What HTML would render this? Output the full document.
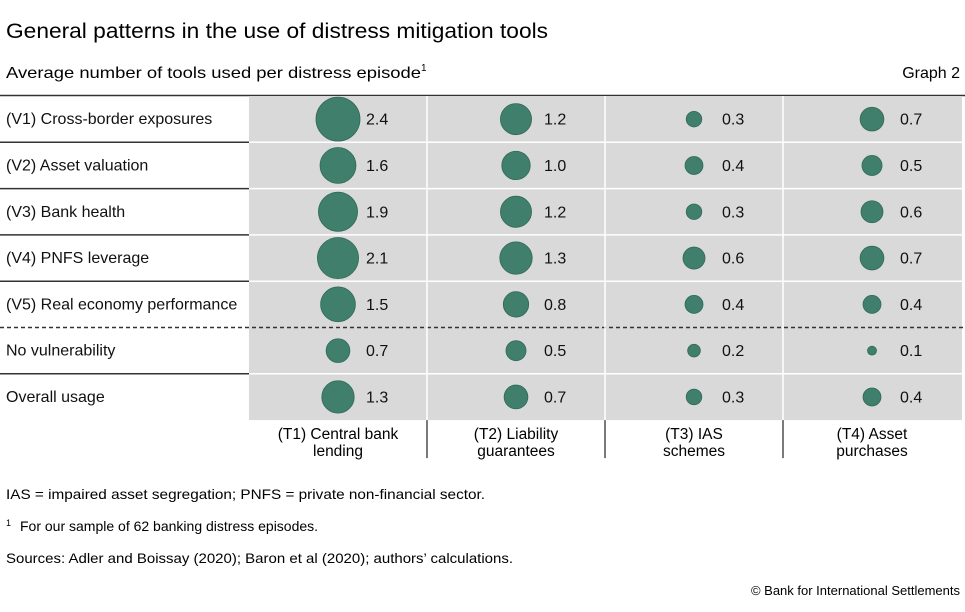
<!DOCTYPE html>
<html><head><meta charset="utf-8"><style>
body{margin:0;background:#fff;font-family:"Liberation Sans",sans-serif;color:#111}
</style></head><body>
<svg width="965" height="607" xmlns="http://www.w3.org/2000/svg" font-family="Liberation Sans, sans-serif">
<text x="6" y="38" font-size="21" textLength="542" lengthAdjust="spacingAndGlyphs">General patterns in the use of distress mitigation tools</text>
<text x="6" y="78" font-size="16"><tspan textLength="415" lengthAdjust="spacingAndGlyphs">Average number of tools used per distress episode</tspan><tspan font-size="10" dy="-7">1</tspan></text>
<text x="960" y="78" font-size="16" text-anchor="end">Graph 2</text>
<line x1="0" y1="95.5" x2="965" y2="95.5" stroke="#333" stroke-width="1.5"/>
<g id="grid"></g>
<g id="marks"></g>
<text x="6" y="499" font-size="14" textLength="479" lengthAdjust="spacingAndGlyphs">IAS = impaired asset segregation; PNFS = private non-financial sector.</text>
<text x="6" y="531" font-size="14"><tspan font-size="9" dy="-5">1</tspan><tspan dy="5" x="20">For our sample of 62 banking distress episodes.</tspan></text>
<text x="6" y="563" font-size="14" textLength="507" lengthAdjust="spacingAndGlyphs">Sources: Adler and Boissay (2020); Baron et al (2020); authors’ calculations.</text>
<text x="960" y="595" font-size="13" text-anchor="end">© Bank for International Settlements</text>
</svg>
<script>
const rows=["(V1) Cross-border exposures","(V2) Asset valuation","(V3) Bank health","(V4) PNFS leverage","(V5) Real economy performance","No vulnerability","Overall usage"];
const colLine1=["(T1) Central bank","(T2) Liability","(T3) IAS","(T4) Asset"];
const colLine2=["lending","guarantees","schemes","purchases"];
const t1=[2.4,1.6,1.9,2.1,1.5,0.7,1.3];
const t2=[1.2,1.0,1.2,1.3,0.8,0.5,0.7];
const t3=[0.3,0.4,0.3,0.6,0.4,0.2,0.3];
const t4=[0.7,0.5,0.6,0.7,0.4,0.1,0.4];
const series=[t1,t2,t3,t4];
const NS="http://www.w3.org/2000/svg";
const top0=96,rowH=46.3,gx=249,colW=178,gright=962;
const yRow=i=>top0+rowH*i;
const xCol=j=>gx+colW*j;
const rad=v=>14.2*Math.sqrt(v);
function mk(tag,at,parent){const e=document.createElementNS(NS,tag);for(const k in at)e.setAttribute(k,at[k]);parent.appendChild(e);return e;}
const grid=document.getElementById('grid'),marks=document.getElementById('marks');
const bg=mk('rect',{x:gx,y:top0,width:gright-gx,height:rowH*rows.length,fill:'#d9d9d9'},grid);


for(let i=0;i<rows.length;i++){
  const t=mk('text',{x:6,y:yRow(i)+rowH/2+5,'font-size':16,fill:'#111'},grid);t.textContent=rows[i];
  
  
  if(i>0){
    const dashed=(i===5);
    const l=mk('line',{x1:0,x2:gx,y1:yRow(i),y2:yRow(i),stroke:'#333','stroke-width':1.5},grid);
    if(dashed){l.setAttribute('x2',965);l.setAttribute('stroke-dasharray','4,3');}
    
    
    if(!dashed){const w=mk('line',{x1:gx,x2:gright,y1:yRow(i),y2:yRow(i),stroke:'#fff','stroke-width':1.5},grid);
      
      }
  }
}
const bottom=yRow(rows.length);
for(let j=0;j<4;j++){
  if(j>0){const w=mk('line',{x1:xCol(j),x2:xCol(j),y1:top0,y2:bottom,stroke:'#fff','stroke-width':1.5},grid);
    
    
    const b=mk('line',{x1:xCol(j),x2:xCol(j),y1:bottom,y2:bottom+38,stroke:'#222','stroke-width':1.2},grid);
    
    }
  const cx=xCol(j)+colW/2;
  const h=mk('text',{x:cx,y:bottom+19,'font-size':15.5,'text-anchor':'middle'},grid);
  h.innerHTML='<tspan x="'+cx+'">'+colLine1[j]+'</tspan><tspan x="'+cx+'" dy="17">'+colLine2[j]+'</tspan>';
  
  
  series[j].forEach((v,i)=>{
    const cy=yRow(i)+rowH/2;
    const c=mk('circle',{cx:cx,cy:cy,r:rad(v),fill:'#3f7f6b',stroke:'#2f6a57','stroke-width':0.8},marks);
    
    
    const t=mk('text',{x:cx+28,y:cy+5.5,'font-size':16,fill:'#111'},marks);t.textContent=v.toFixed(1);
    
    
  });
}
</script>
</body></html>
